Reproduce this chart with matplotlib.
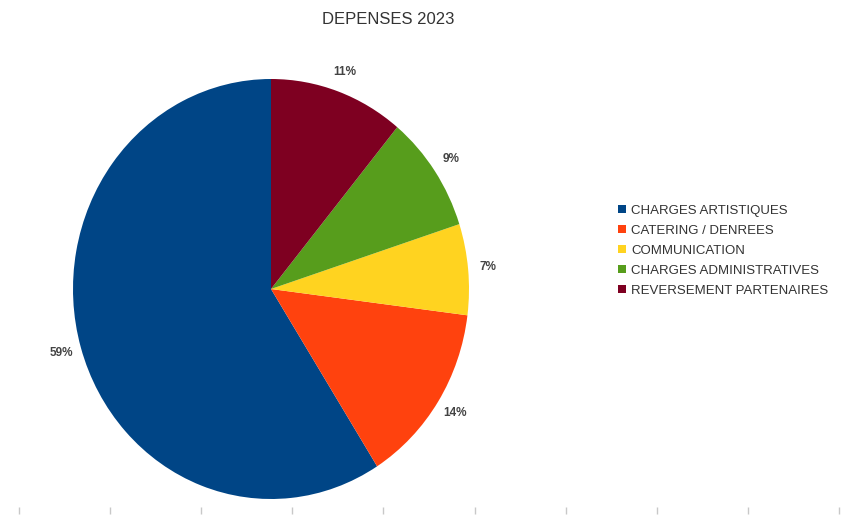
import matplotlib
matplotlib.use("Agg")
import matplotlib.pyplot as plt
import numpy as np

title = "DEPENSES 2023"
categories = ["CHARGES ARTISTIQUES", "CATERING / DENREES", "COMMUNICATION",
              "CHARGES ADMINISTRATIVES", "REVERSEMENT PARTENAIRES"]
values = [59, 14, 7, 9, 11]
colors = ["#004586", "#ff420e", "#ffd320", "#579d1c", "#7e0021"]
bottom_ticks = list(range(10))

plt.rcParams['font.family'] = ['Liberation Sans', 'DejaVu Sans']

W, H = 851, 515
fig = plt.figure(figsize=(W / 100, H / 100), dpi=100)
fig.patch.set_facecolor("white")

# pie axes: centre ~ (271, 288), radii 198 x 210 px
cx, cy, rx, ry = 271, 289, 198, 210
ax = fig.add_axes([(cx - rx) / W, (H - cy - ry) / H, 2 * rx / W, 2 * ry / H])
wedges, texts, autotexts = ax.pie(
    values, colors=colors, startangle=90, counterclock=True,
    autopct=lambda p: f"{p:.0f}%", pctdistance=1.1,
    wedgeprops=dict(linewidth=0),
    textprops=dict(fontsize=8.5, color="#444444", fontweight="bold"))
ax.set_aspect("auto")
ax.set_xlim(-1, 1)
ax.set_ylim(-1, 1)

fig.text(388 / W, 1 - 20 / H, title, ha="center", va="center",
         fontsize=12, color="#333333")

fig.legend(wedges, categories, loc="upper left",
           bbox_to_anchor=(606 / W, 1 - 193 / H), frameon=False,
           handlelength=0.6, handleheight=0.6, handletextpad=0.4,
           labelspacing=0.6, prop=dict(size=9.5), labelcolor="#333333")

# faint tick marks along the bottom edge
tx0, tx1 = 19, 839
bax = fig.add_axes([tx0 / W, 1 / H, (tx1 - tx0) / W, 0.0001])
bax.set_xlim(bottom_ticks[0], bottom_ticks[-1])
bax.set_xticks(bottom_ticks)
bax.set_xticklabels([])
bax.set_yticks([])
for s in bax.spines.values():
    s.set_visible(False)
bax.tick_params(axis="x", direction="in", length=5, color="#c8c8c8", width=1)
bax.patch.set_alpha(0)

fig.savefig("out.png", dpi=100, facecolor="white")
